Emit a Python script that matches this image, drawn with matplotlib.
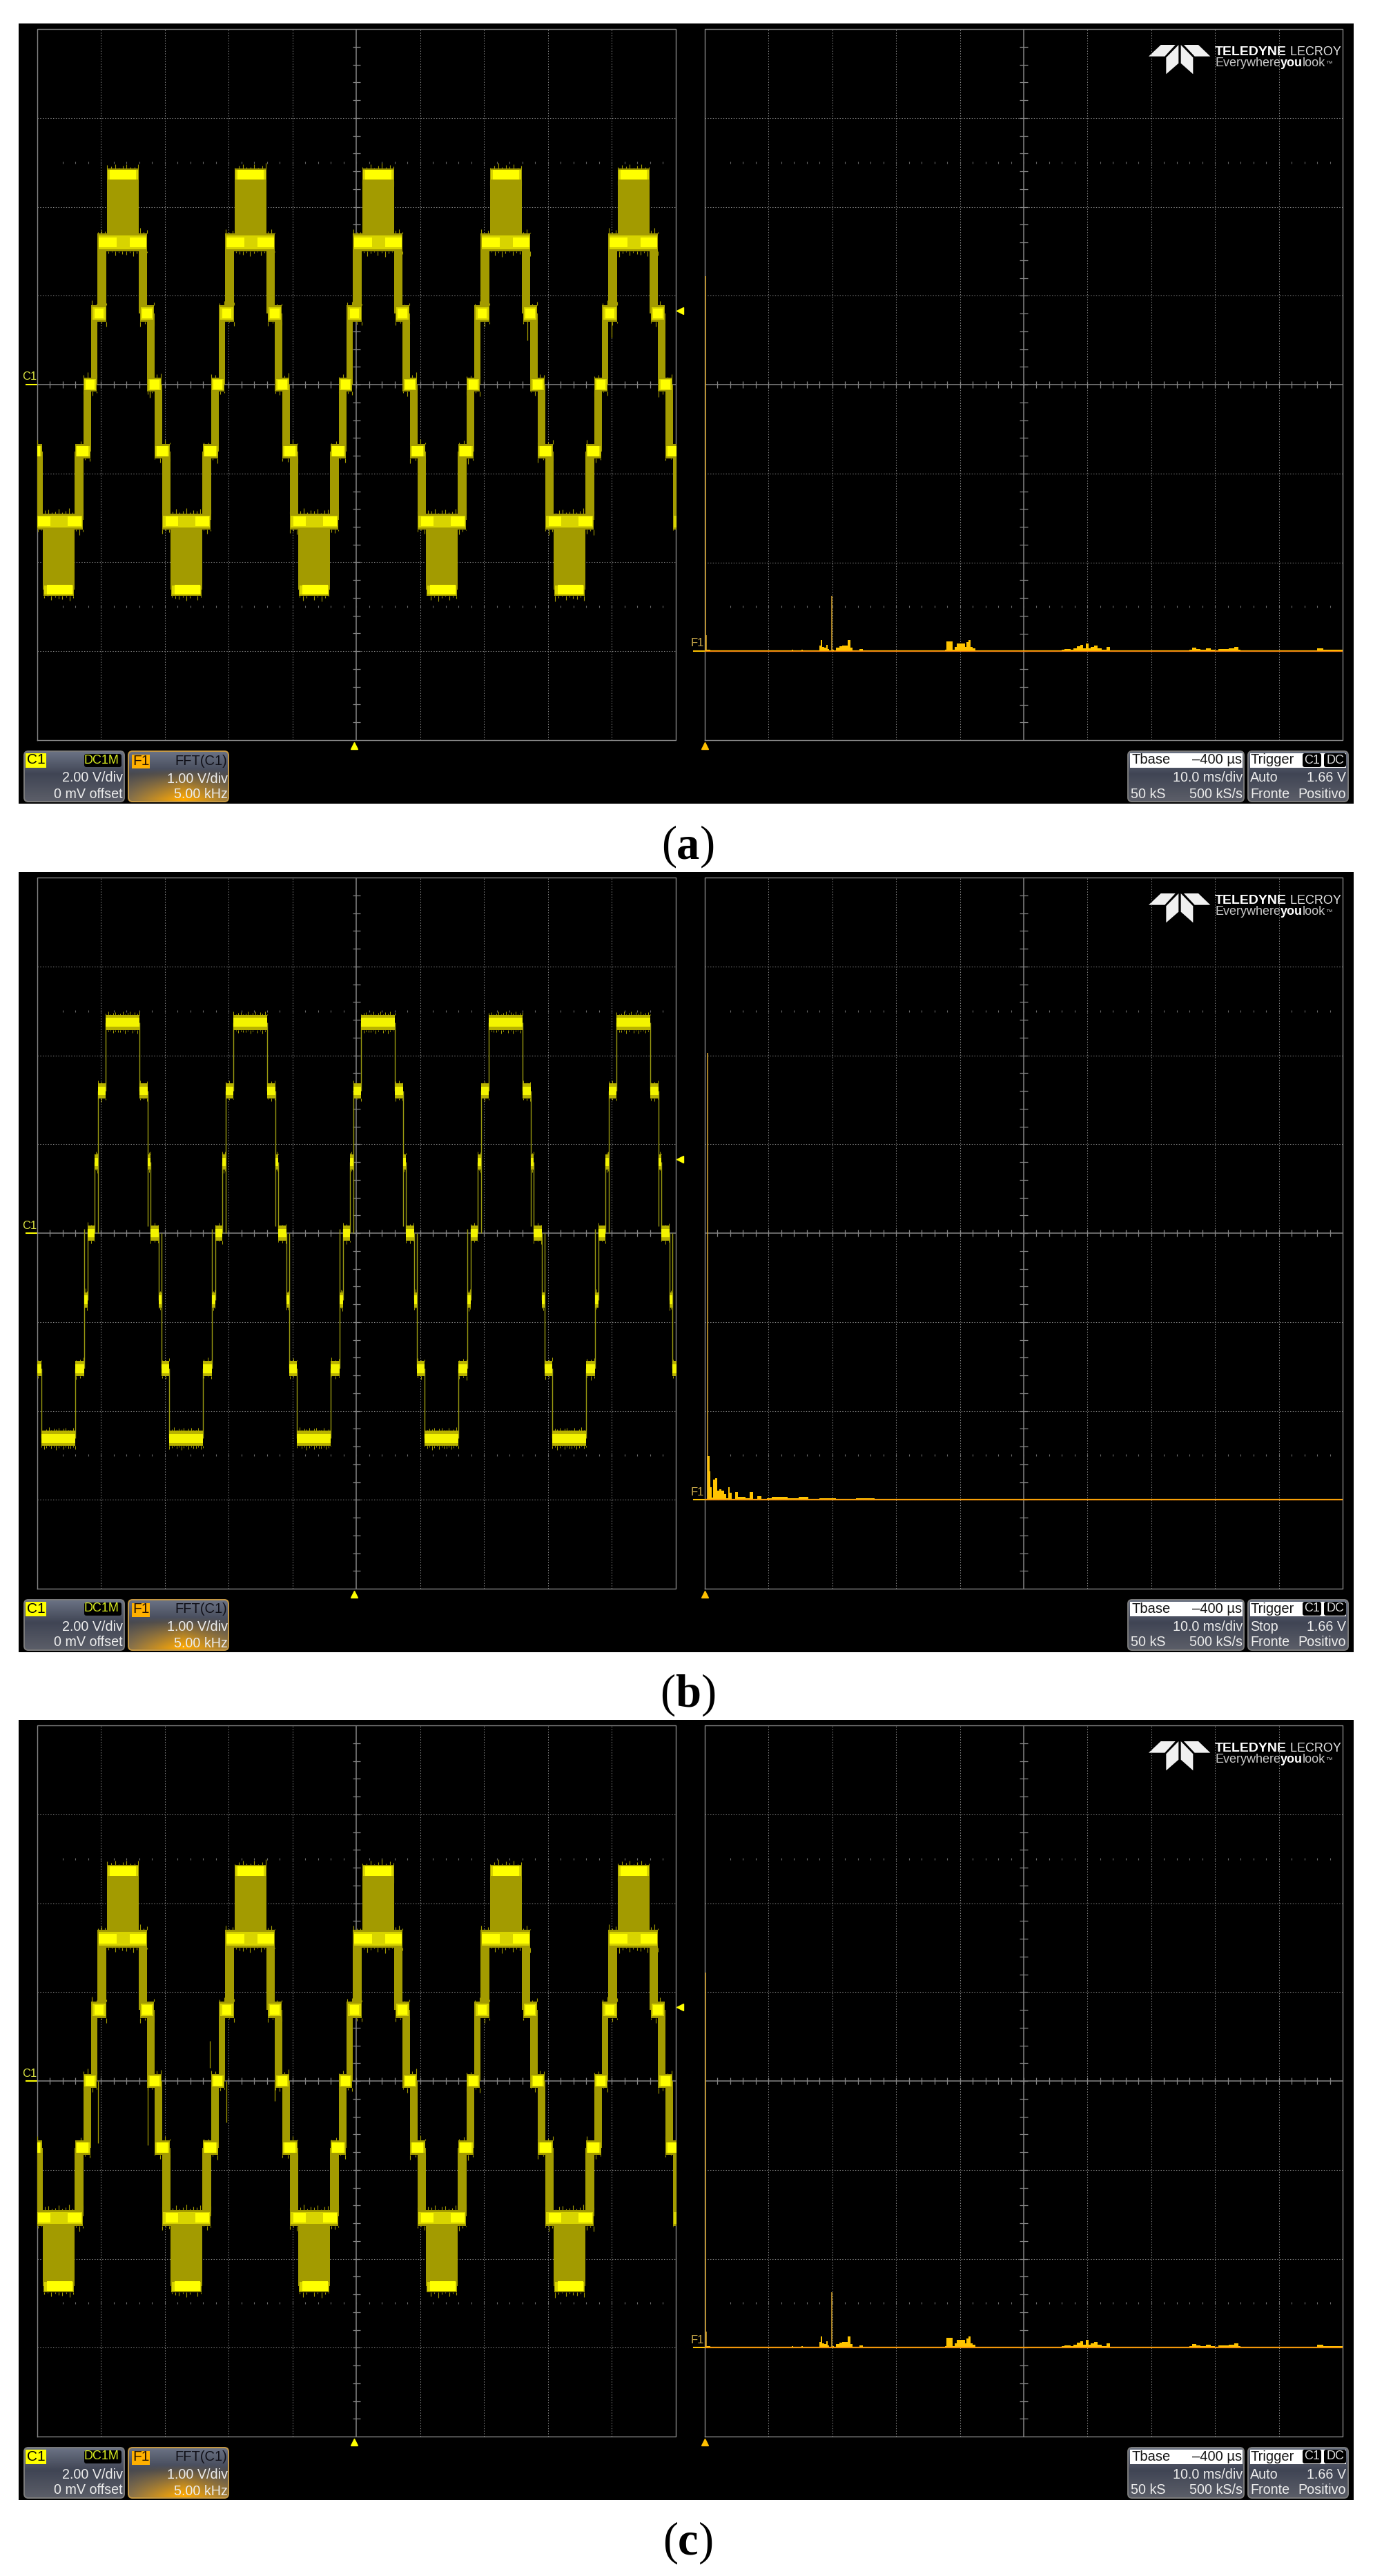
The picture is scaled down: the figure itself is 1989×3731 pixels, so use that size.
import numpy as np
import matplotlib
matplotlib.use("Agg")
import matplotlib.pyplot as plt
from matplotlib.patches import FancyBboxPatch, Polygon, Rectangle

## figure size in pixels, every panel hangs off its grid rows ##
W, H = 1990, 3731
GRID_TOP = [42, 1271, 2499]
CAPTIONS = ["a", "b", "c"]
TRIGGER_MODE = ["Auto", "Stop", "Auto"]

OLIVE = "#a39b00"
MID = "#d8d400"
BRIGHT = "#ffff00"
GRID = "#858585"

## one 20 ms cycle of the 7-level waveform, times in ms, levels in V ##
CYCLE_STARTS = [-20, 0, 20, 40, 60, 80]

# panels (a) and (c): PWM between neighbouring levels
COL_T0 = [7.2, 8.45, 9.45, 10.9, 15.86, 17.24, 18.4, 19.54, 20.85, 25.87]
COL_T1 = [8.45, 9.45, 10.85, 15.86, 17.24, 18.4, 19.54, 20.85, 25.87, 27.2]
COL_LOW = [-1.5, 0.0, 1.6, 3.2, 1.6, 0.0, -1.5, -3.05, -4.62, -3.05]
COL_HIGH = [0.0, 1.6, 3.2, 4.72, 3.2, 1.6, 0.0, -1.5, -3.05, -1.5]

PAD_T0 = [7.24, 8.48, 9.45, 10.9, 16.07, 17.24, 18.38, 19.54, 21.0, 25.98]
PAD_T1 = [9.3, 10.83, 17.24, 15.86, 18.27, 19.45, 20.77, 27.15, 25.7, 28.3]
PAD_LEVEL = [0.0, 1.6, 3.2, 4.72, 1.6, 0.0, -1.5, -3.08, -4.62, -1.5]
PAD_HALF = [0.16, 0.18, 0.2, 0.14, 0.18, 0.16, 0.16, 0.18, 0.13, 0.16]

CORE_T0 = [7.6, 8.97, 9.66, 14.5, 11.4, 16.41, 17.59, 18.65, 20.1, 24.75, 21.47, 26.18]
CORE_T1 = [8.97, 10.34, 12.4, 17.1, 15.5, 17.93, 19.1, 20.46, 22.05, 26.87, 25.52, 28.03]
CORE_LEVEL = [0.0, 1.6, 3.2, 3.2, 4.72, 1.6, 0.0, -1.5, -3.08, -3.08, -4.62, -1.5]

# panel (b): clean steps
STEP_T0 = [0.65, 6.0, 7.32, 7.85, 8.98, 9.47, 10.7, 16.05, 17.25, 17.75, 19.0, 19.5]
STEP_T1 = [6.0, 7.32, 7.85, 8.98, 9.47, 10.7, 16.05, 17.25, 17.75, 19.0, 19.5, 20.65]
STEP_LEVEL = [-4.62, -3.05, -1.5, 0.0, 1.6, 3.2, 4.74, 3.2, 1.6, 0.0, -1.5, -3.05]
EDGE_T = [0.65, 6.0, 7.32, 7.85, 8.98, 9.47, 10.7, 16.05, 17.25, 17.75, 19.0, 19.5]
EDGE_V0 = [-3.05, -4.62, -3.05, -1.5, 0.0, 0.0, 3.2, 4.74, 3.2, 1.6, 0.0, 0.0]
EDGE_V1 = [-4.62, -3.05, 0.1, 0.1, 1.6, 3.2, 4.74, 3.2, 0.15, 0.0, -1.5, -3.05]

# stray glitches that don't repeat (time ms, from V, to V)
SPIKE_T_A = [76.8, 89.9, 17.6]
SPIKE_V0_A = [1.6, 1.6, 0.0]
SPIKE_V1_A = [1.0, 1.05, -0.3]
SPIKE_T_C = [9.5, 17.3, 29.6, 37.2, 27.0]
SPIKE_V0_C = [0.0, 0.0, 0.0, 0.0, 0.3]
SPIKE_V1_C = [-1.4, -1.45, -0.93, -0.45, 0.9]

# fringe of the noise on each plateau, V
FRINGE_UP = [0.04, 0.1, 0.02, 0.06, 0.12, 0.03, 0.08, 0.05, 0.1, 0.01, 0.07, 0.09, 0.03]
FRINGE_DOWN = [0.08, 0.03, 0.11, 0.05, 0.01, 0.09, 0.03, 0.12, 0.05, 0.02, 0.1, 0.04, 0.07]

## FFT of panels (a) and (c), kHz and V ##
FFT_FREQ_A = [0.0, 0.03, 0.3, 0.6, 6.8, 6.89, 7.0, 7.5, 7.61, 7.75, 8.0, 8.06, 8.4, 8.78, 8.95,
              9.05, 9.14, 9.29, 9.45, 9.55, 9.68, 9.83, 9.95, 10.04, 10.2, 10.4, 10.65, 10.85,
              11.1, 11.3, 11.5, 11.7, 12.0, 12.2, 12.6, 13.0, 13.2, 18.8, 18.91, 19.02, 19.33,
              19.5, 19.65, 19.8, 20.3, 20.45, 20.6, 20.75, 20.9, 21.1, 21.3, 27.4, 27.56, 27.7,
              27.85, 28.1, 28.33, 28.53, 28.8, 29.01, 29.3, 29.55, 29.78, 29.98, 30.17, 30.36,
              30.65, 30.95, 31.33, 31.62, 31.91, 32.2, 32.49, 32.65, 37.9, 38.06, 38.39, 38.67,
              39.06, 39.49, 39.83, 40.12, 40.42, 40.9, 41.28, 41.71, 41.92, 42.1, 47.1, 47.27,
              47.76, 48.24, 48.72, 49.3, 49.89, 50.0]
FFT_AMP_A = [0.0, 0.015, 0.015, 0.0, 0.0, 0.015, 0.0, 0.0, 0.015, 0.0, 0.0, 0.013, 0.013, 0.013, 0.0,
             0.065, 0.124, 0.05, 0.04, 0.072, 0.026, 0.012, 0.01, 0.02, 0.01, 0.04, 0.057, 0.065,
             0.065, 0.124, 0.04, 0.01, 0.01, 0.026, 0.013, 0.013, 0.0, 0.0, 0.015, 0.108, 0.108,
             0.02, 0.05, 0.09, 0.09, 0.05, 0.103, 0.13, 0.05, 0.03, 0.0, 0.0, 0.01, 0.0,
             0.01, 0.015, 0.026, 0.026, 0.02, 0.036, 0.057, 0.072, 0.031, 0.088, 0.031, 0.047,
             0.062, 0.031, 0.015, 0.047, 0.01, 0.0, 0.01, 0.0, 0.0, 0.015, 0.041, 0.026,
             0.02, 0.031, 0.015, 0.01, 0.026, 0.026, 0.031, 0.047, 0.015, 0.0, 0.0, 0.013,
             0.013, 0.031, 0.02, 0.018, 0.015, 0.015]
FFT_SPIKE_F_A = [0.05, 0.12, 9.98]
FFT_SPIKE_V_A = [4.22, 0.18, 0.62]

## FFT of panel (b) ##
FFT_FREQ_B = [0.0, 0.31, 0.4, 0.45, 0.58, 0.76, 0.88, 1.03, 1.21, 1.39, 1.62, 1.75, 1.88, 2.02, 2.2,
              2.51, 2.65, 3.01, 3.37, 3.68, 3.91, 4.27, 4.64, 5.09, 5.45, 5.99, 6.98, 7.7, 8.5,
              9.51, 11.0, 12.66, 14.0, 15.2, 16.1, 17.0, 18.3, 19.6, 21.0, 23.0, 25.5, 28.0, 31.0,
              34.0, 37.5, 41.0, 45.0, 50.0]
FFT_AMP_B = [0.0, 0.49, 0.32, 0.14, 0.026, 0.23, 0.245, 0.1, 0.116, 0.1, 0.065, 0.02, 0.14, 0.078, 0.008,
             0.09, 0.03, 0.03, 0.02, 0.09, 0.013, 0.039, 0.01, 0.02, 0.03, 0.03, 0.02, 0.03, 0.01,
             0.02, 0.01, 0.015, 0.01, 0.012, 0.008, 0.012, 0.009, 0.013, 0.007, 0.009, 0.006, 0.008, 0.005,
             0.006, 0.004, 0.005, 0.004, 0.004]
FFT_SPIKE_F_B = [0.22]
FFT_SPIKE_V_B = [5.03]

## readouts on the bottom strip ##
C1_LINES = ["2.00 V/div", "0 mV offset"]
F1_LINES = ["1.00 V/div", "5.00 kHz"]
TBASE_LEFT = ["", "50 kS"]
TBASE_RIGHT = ["10.0 ms/div", "500 kS/s"]
TRIG_RIGHT = ["1.66 V", "Positivo"]

SANS = "Liberation Sans"
SERIF = "Liberation Serif"


def px_axes(fig, x0, y0, x1, y1, **kw):
    ## axes placed by pixel box, y measured from the top of the figure ##
    return fig.add_axes([x0 / W, 1 - y1 / H, (x1 - x0) / W, (y1 - y0) / H], **kw)


def draw_graticule(ax, xmin, xdiv, ymin, ydiv):
    xs = xmin + xdiv * np.arange(11)
    ys = ymin + ydiv * np.arange(9)
    xc, yc = xs[5], ys[4]
    dots = (0, (1.4, 2.2))
    ax.vlines(np.delete(xs[1:-1], 4), ys[0], ys[-1], color=GRID, lw=0.75, linestyles=[dots], zorder=1)
    ax.hlines(np.delete(ys[1:-1], 3), xs[0], xs[-1], color=GRID, lw=0.75, linestyles=[dots], zorder=1)
    ax.plot(xs[[0, -1, -1, 0, 0]], ys[[0, 0, -1, -1, 0]], color=GRID, lw=1.0, clip_on=False, zorder=1)
    ax.vlines(xc, ys[0], ys[-1], color=GRID, lw=1.1, zorder=1)
    ax.hlines(yc, xs[0], xs[-1], color=GRID, lw=1.1, zorder=1)
    xt = xmin + xdiv * np.arange(51) / 5
    yt = ymin + ydiv * np.arange(41) / 5
    ax.vlines(xt[1:-1], yc - 0.035 * ydiv, yc + 0.035 * ydiv, color=GRID, lw=0.9, zorder=1)
    ax.hlines(yt[1:-1], xc - 0.06 * xdiv, xc + 0.06 * xdiv, color=GRID, lw=0.9, zorder=1)
    for y in (yc + 2.5 * ydiv, yc - 2.5 * ydiv):
        ax.vlines(xt[2:-1], y - 0.012 * ydiv, y + 0.012 * ydiv, color="#6a6a6a", lw=0.8, zorder=1)
    ax.set_xlim(xs[0], xs[-1])
    ax.set_ylim(ys[0], ys[-1])
    ax.set_axis_off()


def draw_fringe(ax, t0, t1, level, half, shift):
    n = max(int((t1 - t0) / 0.5), 3)
    xs = np.linspace(t0 + 0.05, t1 - 0.05, n)
    up = np.take(FRINGE_UP, np.arange(n) + shift, mode="wrap")
    down = np.take(FRINGE_DOWN, np.arange(n) + shift, mode="wrap")
    ax.vlines(xs, level + half, level + half + up, color=OLIVE, lw=0.8, zorder=3)
    ax.vlines(xs, level - half - down, level - half, color=OLIVE, lw=0.8, zorder=3)


def draw_pwm_wave(ax, spike_t, spike_v0, spike_v1):
    ## panels (a) and (c): thick olive columns with bright pads at the levels ##
    for k, start in enumerate(CYCLE_STARTS):
        for t0, t1, lo, hi in zip(COL_T0, COL_T1, COL_LOW, COL_HIGH):
            ax.fill_between([start + t0, start + t1], lo, hi, color=OLIVE, lw=0, zorder=3)
        for i, (t0, t1, lvl, half) in enumerate(zip(PAD_T0, PAD_T1, PAD_LEVEL, PAD_HALF)):
            draw_fringe(ax, start + t0, start + t1, lvl, half, i + k * 3)
            ax.fill_between([start + t0, start + t1], lvl - half, lvl + half, color=OLIVE, lw=0, zorder=4)
            ax.fill_between([start + t0 + 0.12, start + t1 - 0.12], lvl - half * 0.75, lvl + half * 0.75,
                            color=MID, lw=0, zorder=5)
        for t0, t1, lvl in zip(CORE_T0, CORE_T1, CORE_LEVEL):
            ax.fill_between([start + t0, start + t1], lvl - 0.11, lvl + 0.11, color=BRIGHT, lw=0, zorder=6)
    ax.vlines(spike_t, spike_v0, spike_v1, color=OLIVE, lw=0.9, zorder=3)


def draw_step_wave(ax):
    ## panel (b): thin edges and narrow noisy plateaus ##
    for k, start in enumerate(CYCLE_STARTS):
        for t, v0, v1 in zip(EDGE_T, EDGE_V0, EDGE_V1):
            ax.vlines(start + t, v0, v1, color="#9a9a10", lw=1.0, zorder=3)
        for i, (t0, t1, lvl) in enumerate(zip(STEP_T0, STEP_T1, STEP_LEVEL)):
            ax.fill_between([start + t0, start + t1], lvl - 0.17, lvl + 0.17, color="#b8b200", lw=0, zorder=4)
            ax.fill_between([start + t0, start + t1], lvl - 0.1, lvl + 0.1, color="#f4f400", lw=0, zorder=5)
            n = max(int((t1 - t0) / 0.35), 3)
            xs = np.linspace(start + t0 + 0.03, start + t1 - 0.03, n)
            up = np.take(FRINGE_UP, np.arange(n) + i + k, mode="wrap") * 0.7
            down = np.take(FRINGE_DOWN, np.arange(n) + i + k, mode="wrap") * 0.7
            ax.vlines(xs, lvl + 0.17, lvl + 0.17 + up, color="#a8a200", lw=0.7, zorder=3)
            ax.vlines(xs, lvl - 0.17 - down, lvl - 0.17, color="#a8a200", lw=0.7, zorder=3)


def draw_fft(ax, freq, amp, spike_f, spike_v):
    ax.fill_between(freq, 0, amp, step="mid", color="#ffc400", lw=0, zorder=3)
    ax.vlines(spike_f, 0, spike_v, color="#d9a62e", lw=1.1, zorder=4)
    ax.hlines(0, 0, 50, color="#ffb000", lw=1.6, zorder=5)
    ax.hlines(0, 0, 50, color="#e8731a", lw=0.6, zorder=6)


def box_gradient(bg, x0, y0, x1, y1, orange=False):
    ## rounded readout box, gray-blue shading, orange glow for the math trace ##
    rows = np.linspace(0, 1, 60)[:, None]
    cols = np.linspace(0, 1, 90)[None, :]
    top = np.array([0.42, 0.45, 0.52])
    dark = np.array([0.25, 0.27, 0.33])
    low = np.array([0.36, 0.37, 0.41])
    t = rows[..., None]
    img = np.where(t < 0.45, top + (dark - top) * t / 0.45, dark + (low - dark) * (t - 0.45) / 0.55)
    img = np.broadcast_to(img, (60, 90, 3)).copy()
    if orange:
        glow = np.clip((rows - 0.35) / 0.6, 0, 1) * np.clip(1 - np.abs(cols - 0.55) / 0.75, 0, 1)
        img = img * (1 - glow[..., None]) + np.array([1.0, 0.66, 0.0]) * glow[..., None]
    edge = "#c79a45" if orange else "#7c7c7c"
    patch = FancyBboxPatch((x0 + 4, y0 + 4), x1 - x0 - 8, y1 - y0 - 8, boxstyle="round,pad=4,rounding_size=6",
                           fc="none", ec=edge, lw=1.4, zorder=3, transform=bg.transData)
    bg.add_patch(patch)
    im = bg.imshow(img, extent=(x0, x1, y1, y0), aspect="auto", zorder=2, interpolation="bilinear")
    im.set_clip_path(patch)
    bg.set_xlim(0, W)
    bg.set_ylim(H, 0)


def readout_text(bg, x, y, s, ha="right", color="#ececec", size=14.2, **kw):
    bg.text(x, y, s, ha=ha, va="center", color=color, fontsize=size, family=SANS, zorder=8, **kw)


def draw_readouts(bg, bottom, mode):
    top = bottom + 16
    end = bottom + 89
    row1, row2, row3 = bottom + 29, bottom + 55, bottom + 78

    box_gradient(bg, 35, top, 180, end)
    bg.add_patch(Rectangle((37, top + 3), 30, 21, fc=BRIGHT, ec="none", zorder=6))
    readout_text(bg, 52, row1, "C1", ha="center", color="black", size=15)
    bg.add_patch(FancyBboxPatch((124, top + 6), 50, 15, boxstyle="round,pad=2,rounding_size=3", fc="black", ec="none", zorder=6))
    readout_text(bg, 172, row1, "DC1M", color="#d8ec20", size=13)
    readout_text(bg, 178, row2, C1_LINES[0])
    readout_text(bg, 178, row3, C1_LINES[1])

    box_gradient(bg, 186, top, 331, end, orange=True)
    bg.add_patch(Rectangle((191, top + 5), 26, 20, fc="#ffb000", ec="none", zorder=6))
    readout_text(bg, 204, row1 + 1, "F1", ha="center", color="#2a1500", size=15)
    readout_text(bg, 329, row1 + 1, "FFT(C1)", color="#101018", size=14.5)
    readout_text(bg, 330, row2 + 1, F1_LINES[0])
    readout_text(bg, 330, row3 + 1, F1_LINES[1])

    box_gradient(bg, 1634, top, 1802, end)
    bg.add_patch(Rectangle((1637, top + 3), 163, 21, fc="white", ec="none", zorder=6))
    readout_text(bg, 1639, row1, "Tbase", ha="left", color="#151515", size=14.5)
    readout_text(bg, 1799, row1, "\u2013400 \u00b5s", color="#151515", size=14.5)
    readout_text(bg, 1800, row2, TBASE_RIGHT[0])
    readout_text(bg, 1638, row3, TBASE_LEFT[1], ha="left")
    readout_text(bg, 1800, row3, TBASE_RIGHT[1])

    box_gradient(bg, 1808, top, 1953, end)
    bg.add_patch(Rectangle((1811, top + 3), 139, 21, fc="white", ec="none", zorder=6))
    readout_text(bg, 1812, row1, "Trigger", ha="left", color="#151515", size=14.5)
    for x0, x1, s in ((1887, 1914, "C1"), (1918, 1950, "DC")):
        bg.add_patch(FancyBboxPatch((x0 + 2, top + 5), x1 - x0 - 4, 16, boxstyle="round,pad=2,rounding_size=3", fc="black", ec="none", zorder=7))
        bg.text((x0 + x1) / 2, row1, s, ha="center", va="center", color="#e0e0e0", fontsize=13, family=SANS, zorder=9)
    readout_text(bg, 1811, row2, mode, ha="left")
    readout_text(bg, 1950, row2, TRIG_RIGHT[0])
    readout_text(bg, 1811, row3, "Fronte", ha="left")
    readout_text(bg, 1950, row3, TRIG_RIGHT[1])


def draw_logo(bg, top):
    ## logo shapes in zoomed pixels, 3 per screen pixel ##
    shapes = [
        [(192, 155), (245, 105), (308, 105), (262, 155)],
        [(460, 155), (408, 105), (345, 105), (392, 155)],
        [(268, 232), (268, 160), (322, 105), (322, 185)],
        [(385, 232), (385, 160), (332, 105), (332, 185)],
    ]
    for shape in shapes:
        pts = [(1600 + x / 3, top - 12 + y / 3) for x, y in shape]
        bg.add_patch(Polygon(pts, closed=True, fc="#f0f0f0", ec="none", zorder=4))
    x = 1760
    t1 = bg.text(x, top + 38, "TELEDYNE", color="white", fontsize=14, fontweight="bold", family=SANS, va="baseline", zorder=4)
    bg.annotate(" LECROY", xy=(1, 0), xycoords=t1, color="#e8e8e8", fontsize=13, family=SANS, va="bottom", zorder=4)
    t2 = bg.text(x, top + 54, "Everywhere", color="#c8c8c8", fontsize=13, family=SANS, va="baseline", zorder=4)
    t3 = bg.annotate("you", xy=(1, 0), xycoords=t2, color="white", fontsize=13, fontweight="bold", family=SANS, va="bottom", zorder=4)
    t4 = bg.annotate("look", xy=(1, 0), xycoords=t3, color="#c8c8c8", fontsize=13, family=SANS, va="bottom", zorder=4)
    bg.annotate("\u2122", xy=(1, 0.2), xycoords=t4, color="#c8c8c8", fontsize=7, family=SANS, va="bottom", zorder=4)


def draw_caption(bg, baseline, letter):
    ## letter in the middle, parens hooked to its sides on the same baseline ##
    mid = bg.text(997, baseline, letter, ha="center", va="baseline", fontsize=48, fontweight="bold", family=SERIF, color="black")
    bg.annotate("(", xy=(0, baseline), xycoords=(mid, "data"), ha="right", va="baseline", fontsize=48, family=SERIF, color="black")
    bg.annotate(")", xy=(1, baseline), xycoords=(mid, "data"), ha="left", va="baseline", fontsize=48, family=SERIF, color="black")


def draw_panel(fig, bg, idx):
    top = GRID_TOP[idx]
    bottom = top + 1030
    center = top + 515

    bg.add_patch(Rectangle((27, top - 8), 1934, 1030 + 100, fc="black", ec="none", zorder=1))

    left = px_axes(fig, 54, top, 979, bottom, zorder=2)
    left.patch.set_visible(False)
    draw_graticule(left, 0, 10, -8, 2)
    if idx == 1:
        draw_step_wave(left)
    elif idx == 0:
        draw_pwm_wave(left, SPIKE_T_A, SPIKE_V0_A, SPIKE_V1_A)
    else:
        draw_pwm_wave(left, SPIKE_T_C, SPIKE_V0_C, SPIKE_V1_C)

    right = px_axes(fig, 1021, top, 1945, bottom, zorder=2)
    right.patch.set_visible(False)
    draw_graticule(right, 0, 5, -1, 1)
    if idx == 1:
        draw_fft(right, FFT_FREQ_B, FFT_AMP_B, FFT_SPIKE_F_B, FFT_SPIKE_V_B)
    else:
        draw_fft(right, FFT_FREQ_A, FFT_AMP_A, FFT_SPIKE_F_A, FFT_SPIKE_V_A)

    # channel labels and pointers
    bg.text(43, center - 11, "C1", ha="center", va="center", color="#d8e040", fontsize=12, family=SANS, zorder=4)
    bg.plot([38, 53], [center, center], color=BRIGHT, lw=1.5, zorder=4)
    f1_y = center + 386
    bg.text(1010, f1_y - 11, "F1", ha="center", va="center", color="#c9a84a", fontsize=12, family=SANS, zorder=4)
    bg.plot([1005, 1020], [f1_y, f1_y], color="#ffc000", lw=1.5, zorder=4)
    bg.plot([985], [center - 107], marker="<", ms=7, color=BRIGHT, ls="", zorder=4)
    bg.plot([513], [bottom + 8], marker="^", ms=7, color=BRIGHT, ls="", zorder=4)
    bg.plot([1021], [bottom + 8], marker="^", ms=7, color="#ffc000", ls="", zorder=4)

    draw_logo(bg, top)
    draw_readouts(bg, bottom, TRIGGER_MODE[idx])
    draw_caption(bg, bottom + 171, CAPTIONS[idx])


def main():
    fig = plt.figure(figsize=(W / 100, H / 100), dpi=100, facecolor="white")
    bg = fig.add_axes([0, 0, 1, 1], zorder=0)
    bg.set_xlim(0, W)
    bg.set_ylim(H, 0)
    bg.set_axis_off()
    for idx in range(3):
        draw_panel(fig, bg, idx)
    fig.savefig("out.png", dpi=100, facecolor="white")


main()
